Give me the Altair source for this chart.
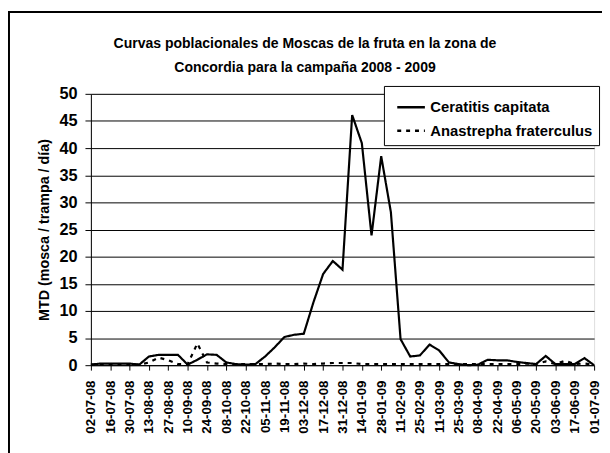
import altair as alt
import pandas as pd

fechas = [d.strftime("%d-%m-%y") for d in pd.date_range("2008-07-02", "2009-07-01", freq="7D")]

ceratitis = [0.1, 0.3, 0.3, 0.3, 0.3, 0.1, 1.6, 1.9, 1.9, 1.9,
             0.1, 1.0, 2.0, 1.9, 0.5, 0.2, 0.1, 0.2, 1.6, 3.3,
             5.2, 5.6, 5.8, 11.6, 16.8, 19.2, 17.6, 46.1, 40.9, 23.9,
             38.5, 28.2, 4.8, 1.6, 1.8, 3.8, 2.7, 0.5, 0.2, 0.0,
             0.1, 1.0, 0.9, 0.9, 0.6, 0.4, 0.2, 1.7, 0.2, 0.2,
             0.2, 1.3, 0.0]

anastrepha = [0.1, 0.1, 0.1, 0.1, 0.1, 0.1, 0.5, 1.4, 0.9, 0.2,
              0.2, 4.0, 0.5, 0.3, 0.2, 0.2, 0.2, 0.2, 0.2, 0.3,
              0.2, 0.2, 0.3, 0.2, 0.3, 0.4, 0.4, 0.4, 0.2, 0.2,
              0.2, 0.2, 0.2, 0.2, 0.2, 0.2, 0.2, 0.2, 0.2, 0.2,
              0.2, 0.2, 0.2, 0.2, 0.2, 0.3, 0.2, 0.7, 0.2, 0.8,
              0.2, 0.3, 0.1]

series = ["Ceratitis capitata", "Anastrepha fraterculus"]

titulo = ["Curvas poblacionales de Moscas de la fruta en la zona de",
          "Concordia para la campaña 2008 - 2009"]

rows = []
for i, v in enumerate(ceratitis):
    rows.append({"semana": i, "fecha": fechas[i], "MTD": v, "especie": series[0]})
for i, v in enumerate(anastrepha):
    rows.append({"semana": i, "fecha": fechas[i], "MTD": v, "especie": series[1]})
df = pd.DataFrame(rows)

FONT = "Liberation Sans"
label_expr = "[" + ",".join("'%s'" % f for f in fechas) + "][datum.value]"

lines = alt.Chart(df).mark_line(color="black", strokeWidth=2.2).encode(
    x=alt.X("semana:Q",
            scale=alt.Scale(domain=[0, len(fechas) - 1], nice=False, zero=False),
            axis=alt.Axis(values=list(range(0, len(fechas), 2)), labelExpr=label_expr,
                          labelAngle=-90, labelAlign="right",
                          labelBaseline="middle", labelFontSize=13.5, labelFontWeight="bold",
                          labelPadding=10, tickSize=5, tickColor="black", domainColor="black",
                          labelColor="black", grid=False, title=None, labelFont=FONT,
                          labelOverlap=False, labelBound=False, labelFlush=False)),
    y=alt.Y("MTD:Q", scale=alt.Scale(domain=[0, 50], nice=False),
            axis=alt.Axis(values=list(range(0, 51, 5)), tickSize=6, labelPadding=8,
                          labelFontSize=16.5, labelFontWeight="bold", labelFont=FONT,
                          labelColor="black", tickColor="black", domainColor="black",
                          gridColor="black", gridWidth=1,
                          title="MTD (mosca / trampa / día)", titleFont=FONT,
                          titleFontSize=14.5, titleFontWeight="bold", titleColor="black",
                          titleAngle=-90, titleX=-47, titleY=137.5,
                          titleAlign="center", titleBaseline="middle")),
    strokeDash=alt.StrokeDash("especie:N", sort=series,
                              scale=alt.Scale(domain=series, range=[[1, 0], [4, 5]]),
                              legend=alt.Legend(title=None, orient="none", legendX=297, legendY=-8,
                                                strokeColor="black", fillColor="white",
                                                padding=6, symbolType="stroke",
                                                symbolSize=784, symbolStrokeWidth=2.5,
                                                symbolStrokeColor="black",
                                                labelFontSize=15, labelFontWeight="bold",
                                                labelFont=FONT, labelColor="black",
                                                labelLimit=400,
                                                labelOffset=4, rowPadding=-5,
                                                symbolOffset=6)),
)

border = alt.Chart(pd.DataFrame({"a": [0]})).mark_rect(
    fill=None, stroke="black", strokeWidth=2
).encode(x=alt.value(-83), y=alt.value(-83), x2=alt.value(700), y2=alt.value(600))

title1 = alt.Chart(pd.DataFrame({"t": [titulo[0]]})).mark_text(
    font=FONT, fontSize=14.2, fontWeight="bold", color="black", align="center", baseline="middle"
).encode(text="t:N", x=alt.value(217), y=alt.value(-50))
title2 = alt.Chart(pd.DataFrame({"t": [titulo[1]]})).mark_text(
    font=FONT, fontSize=14.2, fontWeight="bold", color="black", align="center", baseline="middle"
).encode(text="t:N", x=alt.value(217), y=alt.value(-26))

chart = alt.layer(border, lines, title1, title2).properties(
    width=510, height=275,
    autosize=alt.AutoSizeParams(type="none"),
    padding={"left": 84, "top": 84, "right": 8, "bottom": 86},
).configure_view(stroke="#999999", strokeWidth=1.5).configure(background="white")

chart.save("out.html", embed_options={"renderer": "svg", "actions": False})
